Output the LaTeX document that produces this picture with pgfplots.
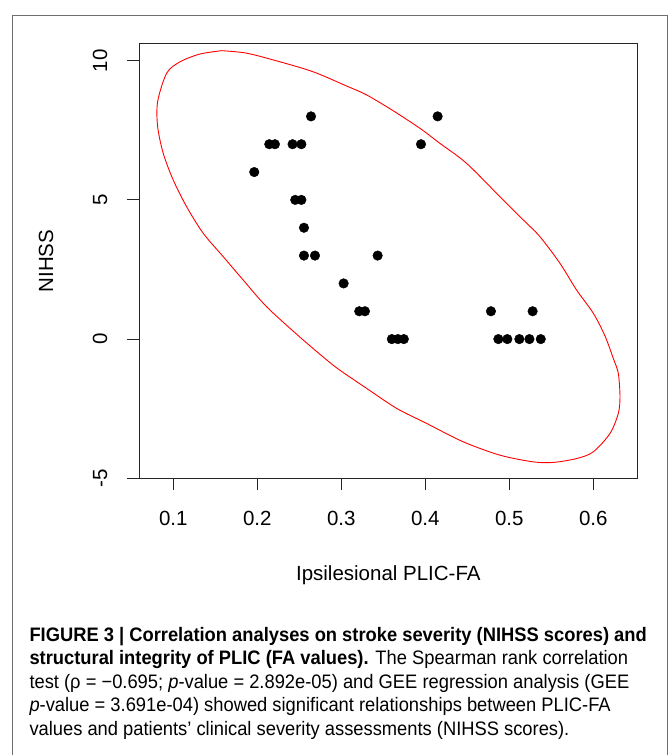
\documentclass[border=0pt]{standalone}
\usepackage{fontspec}
\setmainfont{Liberation Sans}
\newfontfamily\capfont{Liberation Sans}[FakeStretch=0.94, BoldFeatures={FakeStretch=0.94}]
\usepackage{pgfplots}
\pgfplotsset{compat=1.18}
\definecolor{framegray}{RGB}{110,110,110}
\newcommand{\rfont}{\fontsize{20.5bp}{24bp}\selectfont}
\newcommand{\cfont}{\capfont\fontsize{19.5bp}{23.5bp}\selectfont}
\begin{document}
\begin{tikzpicture}
\path[use as bounding box] (0,0) rectangle (671bp,755bp);
% outer frame of the figure panel
\draw[framegray, line width=1bp] (12.7bp,0) -- (12.7bp,739bp) -- (667bp,739bp) -- (667bp,0);

\begin{axis}[
  at={(139bp,276.7bp)}, anchor=south west,
  scale only axis, width=498.7bp, height=434.3bp,
  xmin=0.0592, xmax=0.6529, ymin=-5, ymax=10.6,
  axis line style={line width=1bp, black!85},
  xtick={0.1,0.2,0.3,0.4,0.5,0.6},
  xticklabels={0.1,0.2,0.3,0.4,0.5,0.6},
  ytick={-5,0,5,10},
  yticklabels={-5,0,5,10},
  xtick pos=left, ytick pos=left,
  tick align=outside, major tick length=12bp,
  tick style={black!85, line width=1bp},
  ticklabel style={font=\rfont, inner sep=0pt},
  xticklabel style={anchor=north},
  xticklabel shift=21bp,
  yticklabel style={rotate=90, anchor=south},
  yticklabel shift=19.5bp,
  xlabel={Ipsilesional PLIC-FA},
  ylabel={NIHSS},
  label style={font=\rfont, inner sep=0pt},
  xlabel style={at={(axis description cs:0.5,-0.2227)}, anchor=center},
  ylabel style={at={(axis description cs:-0.1865,0.5)}, anchor=center},
]
% data ellipse
\addplot[red, line width=0.9bp, smooth, tension=0.5] coordinates {
(0.1576,10.36) (0.1874,10.27) (0.2270,9.96) (0.2667,9.60) (0.3064,9.09)
(0.3302,8.77) (0.3619,8.20) (0.3937,7.57) (0.4175,7.03) (0.4493,6.31)
(0.4890,5.11) (0.5167,4.28) (0.5365,3.68) (0.5604,2.72) (0.5802,1.76)
(0.6000,0.93) (0.6140,0.11) (0.6238,-0.69) (0.6298,-1.23) (0.6318,-2.07)
(0.6298,-2.67) (0.6199,-3.39) (0.6000,-4.05) (0.5802,-4.29) (0.5524,-4.43)
(0.5286,-4.41) (0.4890,-4.17) (0.4452,-3.69) (0.4017,-3.03) (0.3660,-2.49)
(0.3302,-1.77) (0.2985,-1.12) (0.2827,-0.75) (0.2508,0.07) (0.2112,1.16)
(0.1833,2.12) (0.1595,2.96) (0.1357,3.80) (0.1160,4.75) (0.1000,5.71)
(0.0881,6.67) (0.0814,7.63) (0.0814,8.53) (0.0921,9.55) (0.1080,9.96)
(0.1318,10.24) (0.1576,10.36)
};
% patients
\addplot[only marks, mark=*, mark size=4.8bp, black, mark options={fill=black}] coordinates {
(0.264,8) (0.4147,8)
(0.2143,7) (0.221,7) (0.242,7) (0.2525,7) (0.3949,7)
(0.1964,6)
(0.2452,5) (0.2525,5)
(0.2556,4)
(0.2556,3) (0.2687,3) (0.3433,3)
(0.3028,2)
(0.3214,1) (0.3282,1) (0.4782,1) (0.5278,1)
(0.3602,0) (0.3674,0) (0.3745,0)
(0.487,0) (0.4977,0) (0.512,0) (0.524,0) (0.5375,0)
};
\end{axis}

% caption
\node[anchor=base west, inner sep=0pt, font=\cfont] at (29.3bp,113.5bp)
  {\bfseries FIGURE 3 | Correlation analyses on stroke severity (NIHSS scores) and};
\node[anchor=base west, inner sep=0pt, font=\cfont] at (29.3bp,90bp)
  {\textbf{structural integrity of PLIC (FA values).} The Spearman rank correlation};
\node[anchor=base west, inner sep=0pt, font=\cfont] at (29.3bp,66.5bp)
  {test (ρ = −0.695; \textit{p}-value = 2.892e-05) and GEE regression analysis (GEE};
\node[anchor=base west, inner sep=0pt, font=\cfont] at (29.3bp,43bp)
  {\textit{p}-value = 3.691e-04) showed significant relationships between PLIC-FA};
\node[anchor=base west, inner sep=0pt, font=\cfont] at (29.3bp,19.5bp)
  {values and patients’ clinical severity assessments (NIHSS scores).};
\end{tikzpicture}
\end{document}
